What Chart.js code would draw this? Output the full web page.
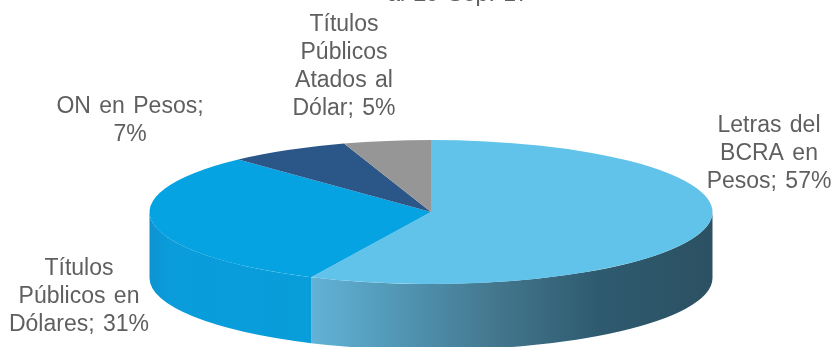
<!DOCTYPE html>
<html>
<head>
<meta charset="utf-8">
<title>Cartera</title>
<script src="https://cdn.jsdelivr.net/npm/chart.js@4/dist/chart.umd.min.js"></script>
<style>
  html, body { margin: 0; padding: 0; background: #fff; overflow: hidden; }
  #wrap { width: 833px; height: 347px; }
  canvas { filter: blur(0.5px); }
</style>
</head>
<body>
<div id="wrap"><canvas id="myChart" width="833" height="347"></canvas></div>
<script>
const categories = ["Letras del BCRA en Pesos", "Títulos Públicos en Dólares", "ON en Pesos", "Títulos Públicos Atados al Dólar"];
const values = [57, 31, 7, 5];
const sliceColors = ["#62c3ea", "#05a3e2", "#2a5688", "#969696"];

// line breaks of every label, same order as categories
const labelLines = [
  ["Letras del", "BCRA en", "Pesos; " + values[0] + "%"],
  ["Títulos", "Públicos en", "Dólares; " + values[1] + "%"],
  ["ON en Pesos;", values[2] + "%"],
  ["Títulos", "Públicos", "Atados al", "Dólar; " + values[3] + "%"]
];
const cutOffTitle = "al 29 Sep. 17"; // only the bottom of it shows in the picture

// pie is squashed and moved onto this ellipse, depth is the height of the wall
const ell = { x: 431, y: 212, rx: 281.5, ry: 72, depth: 66 };
const labelPos = [
  { x: 769, y: 132 },
  { x: 79, y: 275 },
  { x: 130, y: 113 },
  { x: 344, y: 31 }
];

function wallFill(ctx, i) {
  if (i == 0) {
    const g = ctx.createLinearGradient(310, 0, 713, 0);
    g.addColorStop(0, "#62b3d7");
    g.addColorStop(0.2, "#5299b8");
    g.addColorStop(0.45, "#44788f");
    g.addColorStop(0.72, "#2e5a6f");
    g.addColorStop(1, "#2c5162");
    return g;
  }
  const g = ctx.createLinearGradient(150, 0, 310, 0);
  g.addColorStop(0, "#0e93d0");
  g.addColorStop(0.12, "#0a9cdb");
  g.addColorStop(1, "#089eda");
  return g;
}

const fakePie3d = {
  id: "fakePie3d",
  beforeDatasetsDraw(chart) {
    const ctx = chart.ctx;
    const arcs = chart.getDatasetMeta(0).data;
    arcs.forEach((arc, i) => {
      const a0 = Math.max(arc.startAngle, 0);
      const a1 = Math.min(arc.endAngle, Math.PI);
      if (a1 <= a0) return;
      ctx.beginPath();
      ctx.ellipse(ell.x, ell.y, ell.rx, ell.ry, 0, a0, a1);
      ctx.ellipse(ell.x, ell.y + ell.depth, ell.rx, ell.ry, 0, a1, a0, true);
      ctx.closePath();
      ctx.fillStyle = wallFill(ctx, i);
      ctx.fill();
    });
    const a = arcs[0];
    ctx.save();
    ctx.translate(ell.x, ell.y);
    ctx.scale(ell.rx / a.outerRadius, ell.ry / a.outerRadius);
    ctx.translate(-a.x, -a.y);
  },
  afterDatasetsDraw(chart) {
    chart.ctx.restore();
  },
  afterDraw(chart) {
    const ctx = chart.ctx;
    ctx.save();
    ctx.font = "23px 'Liberation Sans', Arial, sans-serif";
    ctx.wordSpacing = "2px";
    ctx.fillStyle = "#5f5f5f";
    ctx.textAlign = "center";
    ctx.textBaseline = "alphabetic";
    labelLines.forEach((lines, i) => {
      lines.forEach((line, n) => {
        ctx.fillText(line, labelPos[i].x, labelPos[i].y + n * 28);
      });
    });
    ctx.fillText(cutOffTitle, 458, 1);
    ctx.restore();
  }
};

new Chart(document.getElementById("myChart"), {
  type: "pie",
  data: {
    labels: categories,
    datasets: [{ data: values, backgroundColor: sliceColors, borderWidth: 0 }]
  },
  options: {
    responsive: false,
    animation: false,
    layout: { padding: 0 },
    plugins: { legend: { display: false }, tooltip: { enabled: false } }
  },
  plugins: [fakePie3d]
});
</script>
</body>
</html>
